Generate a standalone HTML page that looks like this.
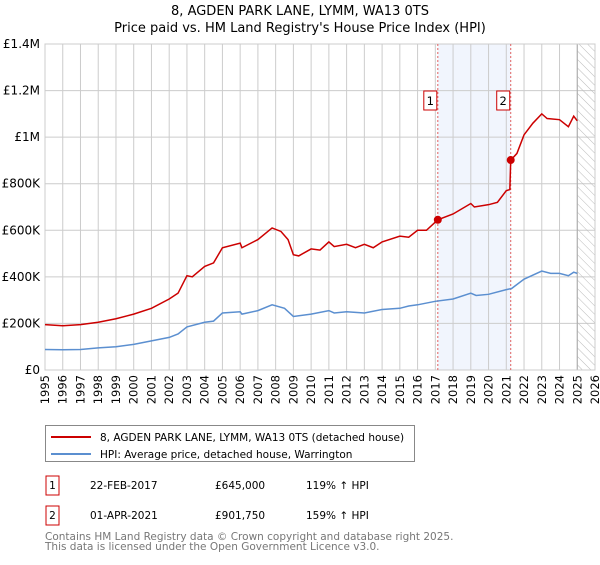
<!DOCTYPE html>
<html><head><meta charset="utf-8"><style>
body{margin:0;background:#fff;font-family:"Liberation Sans","DejaVu Sans",sans-serif;}
svg text{font-family:"DejaVu Sans","Liberation Sans",sans-serif;}
</style></head><body>
<svg id="c" width="600" height="560" xmlns="http://www.w3.org/2000/svg">
<defs><pattern id="hatch" width="6" height="6" patternUnits="userSpaceOnUse" patternTransform="rotate(-45)"><line x1="0" y1="0" x2="0" y2="6" stroke="#bbb" stroke-width="1"/></pattern></defs>
<text x="300" y="15" text-anchor="middle" font-size="13">8, AGDEN PARK LANE, LYMM, WA13 0TS</text>
<text x="300" y="32" text-anchor="middle" font-size="13">Price paid vs. HM Land Registry's House Price Index (HPI)</text>
<g id="grid"></g><g id="marks"></g>
<g>
<rect x="45.5" y="425.5" width="369" height="36" fill="#fff" stroke="#888"/>
<line x1="51" y1="437" x2="91" y2="437" stroke="#cc0000" stroke-width="2"/>
<text x="100" y="441" font-size="10.5">8, AGDEN PARK LANE, LYMM, WA13 0TS (detached house)</text>
<line x1="51" y1="454" x2="91" y2="454" stroke="#5b8fd0" stroke-width="2"/>
<text x="100" y="458" font-size="10.5">HPI: Average price, detached house, Warrington</text>
</g>
<g font-size="10.5">
<rect x="46" y="476" width="13" height="19" fill="#fff" stroke="#cc0000"/><text x="52.5" y="489" text-anchor="middle">1</text>
<text x="90" y="489">22-FEB-2017</text><text x="215" y="489">£645,000</text><text x="306" y="489">119% ↑ HPI</text>
<rect x="46" y="506" width="13" height="19" fill="#fff" stroke="#cc0000"/><text x="52.5" y="519" text-anchor="middle">2</text>
<text x="90" y="519">01-APR-2021</text><text x="215" y="519">£901,750</text><text x="306" y="519">159% ↑ HPI</text>
</g>
<text x="45" y="540" font-size="10.5" fill="#777">Contains HM Land Registry data © Crown copyright and database right 2025.</text>
<text x="45" y="550" font-size="10.5" fill="#777">This data is licensed under the Open Government Licence v3.0.</text>
</svg>
<script>
const redYears=[1995,1996,1997,1998,1999,2000,2001,2002,2002.5,2003,2003.3,2004,2004.5,2005,2006,2006.1,2007,2007.8,2008.3,2008.7,2009,2009.3,2010,2010.5,2011,2011.3,2012,2012.5,2013,2013.5,2014,2015,2015.5,2016,2016.5,2017.14,2018,2019,2019.2,2020,2020.5,2021,2021.2,2021.25,2021.6,2022,2022.5,2023,2023.3,2024,2024.5,2024.8,2025];
const redValues=[195,190,195,205,220,240,265,305,330,405,400,445,460,525,545,525,560,610,595,560,495,490,520,515,550,530,540,525,540,525,550,575,570,600,600,645,670,715,700,710,720,770,775,901,930,1010,1060,1100,1080,1075,1045,1090,1070];
const hpiYears=[1995,1996,1997,1998,1999,2000,2001,2002,2002.5,2003,2004,2004.5,2005,2006,2006.1,2007,2007.8,2008.5,2009,2010,2011,2011.3,2012,2013,2014,2015,2015.5,2016,2017,2018,2019,2019.3,2020,2021,2021.3,2022,2023,2023.5,2024,2024.5,2024.8,2025];
const hpiValues=[88,87,88,95,100,110,125,140,155,185,205,210,245,250,240,255,280,265,230,240,255,245,250,245,260,265,275,280,295,305,330,320,325,345,350,390,425,415,415,405,420,415];
const saleYears=[2017.14,2021.25];
const saleValues=[645,901.75];
const saleLabels=["1","2"];
const yTicks=[0,200,400,600,800,1000,1200,1400];
const yTickLabels=["£0","£200K","£400K","£600K","£800K","£1M","£1.2M","£1.4M"];
const xTicks=[1995,1996,1997,1998,1999,2000,2001,2002,2003,2004,2005,2006,2007,2008,2009,2010,2011,2012,2013,2014,2015,2016,2017,2018,2019,2020,2021,2022,2023,2024,2025,2026];
const L=45,R=595,T=44,B=370;
const X=v=>L+(v-1995)/(2026-1995)*(R-L);
const Y=v=>B-v/1400*(B-T);
const NS="http://www.w3.org/2000/svg";
function mk(tag,attrs,parent){const e=document.createElementNS(NS,tag);for(const k in attrs)e.setAttribute(k,attrs[k]);parent.appendChild(e);return e;}
const g=document.getElementById('grid'),m=document.getElementById('marks');
let sh=mk('rect',{x:X(saleYears[0]),y:T,width:X(saleYears[1])-X(saleYears[0]),height:B-T,fill:'#eef3fc',opacity:0.8},g);


xTicks.forEach(t=>{
 const l=mk('line',{x1:X(t),x2:X(t),y1:T,y2:B,stroke:'#ccc'},g);
 
 
 const tx=mk('text',{x:0,y:0,'font-size':11.5,'text-anchor':'end',transform:`translate(${X(t)+4},${B+5}) rotate(-90)`},g);
 tx.textContent=t;
 
 
});
yTicks.forEach((t,i)=>{
 const l=mk('line',{x1:L,x2:R,y1:Y(t),y2:Y(t),stroke:'#ccc'},g);
 
 
 const tx=mk('text',{x:L-5,y:Y(t)+4,'font-size':12,'text-anchor':'end'},g);
 tx.textContent=yTickLabels[i];
 
 
});
let ht=mk('rect',{x:X(2025),y:T,width:R-X(2025),height:B-T,fill:'url(#hatch)',stroke:'#aaa'},g);


let ax=mk('rect',{x:L,y:T,width:R-L,height:B-T,fill:'none',stroke:'#ccc'},g);


saleYears.forEach((s,i)=>{
 const l=mk('line',{x1:X(s),x2:X(s),y1:T,y2:B,stroke:'#e06060','stroke-dasharray':'2,2'},m);
 
 
 const r=mk('rect',{x:X(s)-14,y:91,width:13,height:19,fill:'#fff',stroke:'#cc0000'},m);
 
 
 const t=mk('text',{x:X(s)-7.5,y:105,'font-size':11.5,'text-anchor':'middle'},m);
 t.textContent=saleLabels[i];
 
 
});
const hp=mk('polyline',{points:hpiYears.map((y,i)=>X(y)+','+Y(hpiValues[i])).join(' '),fill:'none',stroke:'#5b8fd0','stroke-width':1.5},m);


const rp=mk('polyline',{points:redYears.map((y,i)=>X(y)+','+Y(redValues[i])).join(' '),fill:'none',stroke:'#cc0000','stroke-width':1.5},m);


saleYears.forEach((s,i)=>{
 const c=mk('circle',{cx:X(s),cy:Y(saleValues[i]),r:4,fill:'#cc0000'},m);
 
 
});
</script>
</body></html>
